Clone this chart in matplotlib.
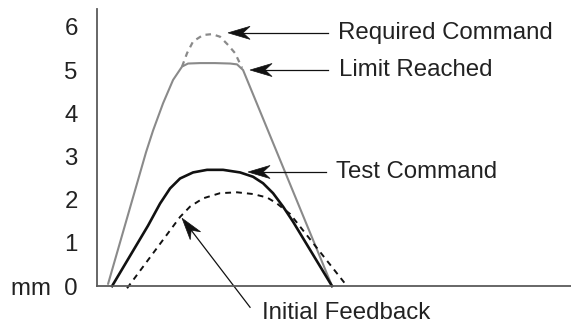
import numpy as np
import matplotlib
matplotlib.use("Agg")
import matplotlib.pyplot as plt
from matplotlib.patches import Polygon
from matplotlib.transforms import Affine2D, ScaledTranslation

plt.rcParams['font.family'] = ['Liberation Sans', 'DejaVu Sans']

# ---- data (arbitrary time units, displacement in mm) ----
limit_x = [1.1, 4.9, 5.6, 6.6, 7.6, 8.5, 9.1, 10.3, 11.8, 13.3, 14.0, 14.6, 23.5]
limit_y = [0.05, 3.1, 3.6, 4.23, 4.77, 5.08, 5.15, 5.16, 5.16, 5.15, 5.13, 5.0, 0.0]

required_x = [8.5, 9.0, 9.6, 10.6, 11.5, 12.3, 13.1, 13.8, 14.5]
required_y = [5.08, 5.39, 5.66, 5.81, 5.83, 5.77, 5.58, 5.39, 5.05]

test_x = [1.5, 5.1, 6.3, 7.3, 8.3, 9.6, 11.0, 12.6, 14.3, 15.6, 16.6, 17.6, 18.6, 19.6, 23.5]
test_y = [0.0, 1.40, 1.91, 2.26, 2.49, 2.63, 2.69, 2.69, 2.63, 2.53, 2.38, 2.15, 1.84, 1.49, 0.0]

feedback_x = [3.0, 8.3, 9.3, 10.6, 12.3, 14.0, 15.6, 17.0, 18.0, 18.8, 19.3, 25.0]
feedback_y = [-0.05, 1.60, 1.84, 2.03, 2.15, 2.17, 2.13, 2.05, 1.91, 1.76, 1.67, 0.0]

ytick_vals = [0, 1, 2, 3, 4, 5, 6]
ytick_labels = ["mm  0", "1", "2", "3", "4", "5", "6"]

# annotations: label, text position, arrow tail, arrow tip
annotations = [
    ("Required Command", (24.1, 5.86), (23.1, 5.86), (13.1, 5.86)),
    ("Limit Reached",    (24.2, 5.00), (23.1, 5.00), (15.3, 5.00)),
    ("Test Command",     (23.9, 2.64), (22.9, 2.64), (15.1, 2.64)),
    ("Initial Feedback", (16.5, -0.62), (15.3, -0.49), (8.5, 1.57)),
]

FS = 17.3
fig = plt.figure(figsize=(5.71, 3.24), dpi=100)
ax = fig.add_axes([0.170, 0.117, 0.830, 0.855])
ax.set_xlim(0, 47.4)
ax.set_ylim(0, 6.41)

gray = '#8a8a8a'
ax.plot(limit_x, limit_y, color=gray, lw=1.5, solid_capstyle='round',
        solid_joinstyle='round', clip_on=False)
ax.plot(required_x, required_y, color=gray, lw=1.6, linestyle=(0, (2.5, 2.2)), clip_on=False)
ax.plot(test_x, test_y, color='#111111', lw=1.9, solid_joinstyle='round', clip_on=False)
ax.plot(feedback_x, feedback_y, color='#111111', lw=1.4, linestyle=(0, (3.0, 2.6)), clip_on=False)

for s in ['top', 'right']:
    ax.spines[s].set_visible(False)
for s in ['left', 'bottom']:
    ax.spines[s].set_color('#5a5a5a')
    ax.spines[s].set_linewidth(1.3)

ax.set_xticks([])
ax.set_yticks(ytick_vals)
ax.set_yticklabels(ytick_labels, fontsize=FS, color='#222222')
ax.tick_params(axis='y', length=0, pad=14)


def draw_arrow(tail, tip):
    p_tail = ax.transData.transform(tail)
    p_tip = ax.transData.transform(tip)
    d = p_tip - p_tail
    theta = np.arctan2(d[1], d[0])
    L, W, N = 22.0, 6.5, 15.0  # pixels
    u = d / np.hypot(*d)
    shaft_end = p_tip - u * N
    shaft_end_data = ax.transData.inverted().transform(shaft_end)
    ax.plot([tail[0], shaft_end_data[0]], [tail[1], shaft_end_data[1]],
            color='#111111', lw=0.9, clip_on=False)
    head = np.array([[0, 0], [-L, W], [-N, 0], [-L, -W]])
    trans = Affine2D().rotate(theta) + ScaledTranslation(tip[0], tip[1], ax.transData)
    poly = Polygon(head, closed=True, facecolor='#111111', edgecolor='#111111',
                   lw=0.5, transform=trans, clip_on=False, zorder=5)
    ax.add_patch(poly)


for label, tpos, tail, tip in annotations:
    draw_arrow(tail, tip)
    ax.text(tpos[0], tpos[1], label, fontsize=FS, color='#222222',
            ha='left', va='center', clip_on=False)

fig.savefig('out.png', dpi=100)
